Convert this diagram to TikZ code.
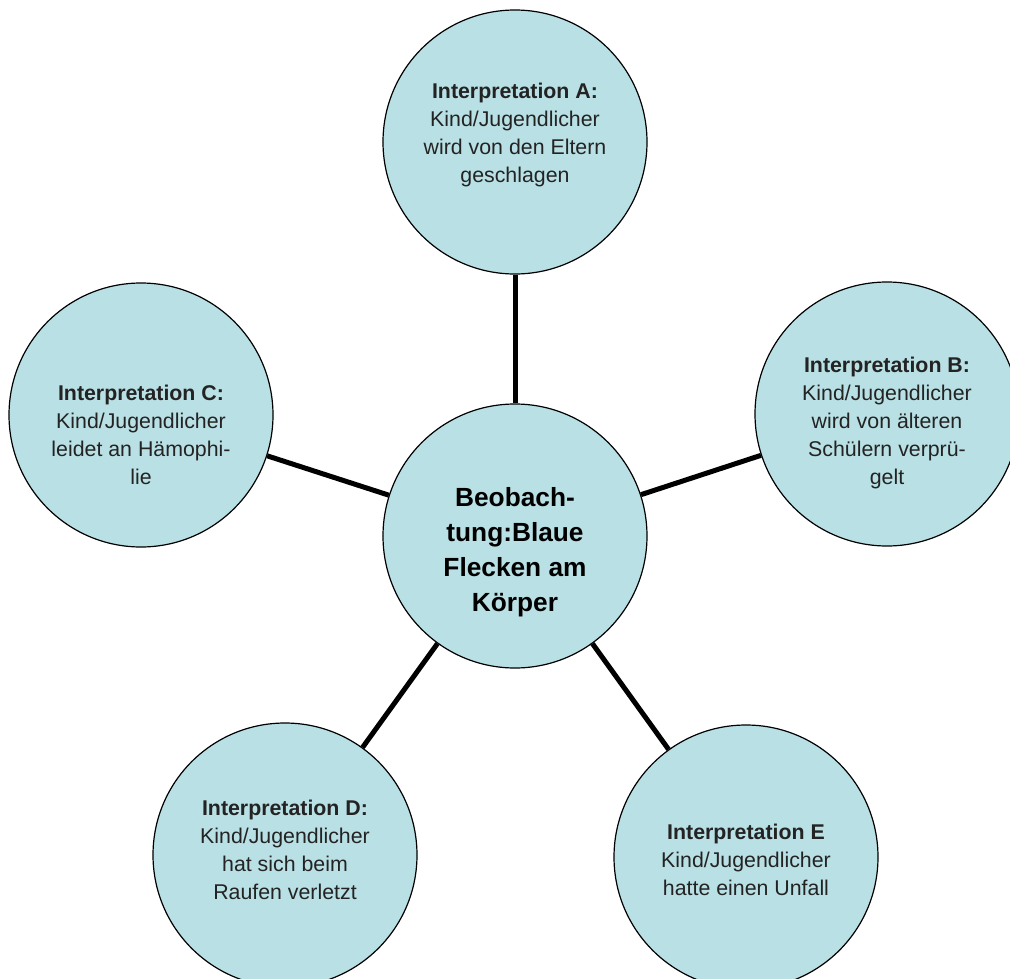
\documentclass[tikz,border=0pt]{standalone}
\usepackage{fontspec}
\setmainfont{Liberation Sans}
\usepackage{tikz}
\definecolor{bubblefill}{RGB}{185,224,228}
\definecolor{bubbletext}{RGB}{35,35,35}

\begin{document}
\begin{tikzpicture}[x=0.75pt,y=-0.75pt,
    bubble/.style={circle,draw=black,line width=0.9pt,fill=bubblefill,
      minimum size=198pt,inner sep=0pt},
    txt/.style={align=center,inner sep=0pt,text=bubbletext,
      font=\fontsize{16}{21}\selectfont},
    coretxt/.style={align=center,inner sep=0pt,text=black,
      font=\fontsize{19.7}{26.3}\selectfont\bfseries},
    link/.style={line width=3.75pt,black}]
      \clip (0,0) rectangle (1010,978);
      \node[bubble,label={[coretxt,yshift=-12pt]center:{Beobach-\\tung:Blaue\\Flecken am\\Körper}}] (obs) at (515,536) {};
      \node[bubble,label={[txt,yshift=5pt]center:{\textbf{Interpretation A:}\\Kind/Jugendlicher\\wird von den Eltern\\geschlagen}}] (intA) at (515,142) {};
      \node[bubble,label={[txt,yshift=-7pt]center:{\textbf{Interpretation B:}\\Kind/Jugendlicher\\wird von älteren\\Schülern verprü-\\gelt}}] (intB) at (887,414) {};
      \node[bubble,label={[txt,yshift=-15pt]center:{\textbf{Interpretation C:}\\Kind/Jugendlicher\\leidet an Hämophi-\\lie}}] (intC) at (141,415) {};
      \node[bubble,label={[txt,yshift=4pt]center:{\textbf{Interpretation D:}\\Kind/Jugendlicher\\hat sich beim\\Raufen verletzt}}] (intD) at (285,855) {};
      \node[bubble,label={[txt,yshift=-2pt]center:{\textbf{Interpretation E}\\Kind/Jugendlicher\\hatte einen Unfall}}] (intE) at (746,857) {};
      \draw[link] (obs)--(intA);
      \draw[link] (obs)--(intB);
      \draw[link] (obs)--(intC);
      \draw[link] (obs)--(intD);
      \draw[link] (obs)--(intE);
    \end{tikzpicture}
\end{document}
